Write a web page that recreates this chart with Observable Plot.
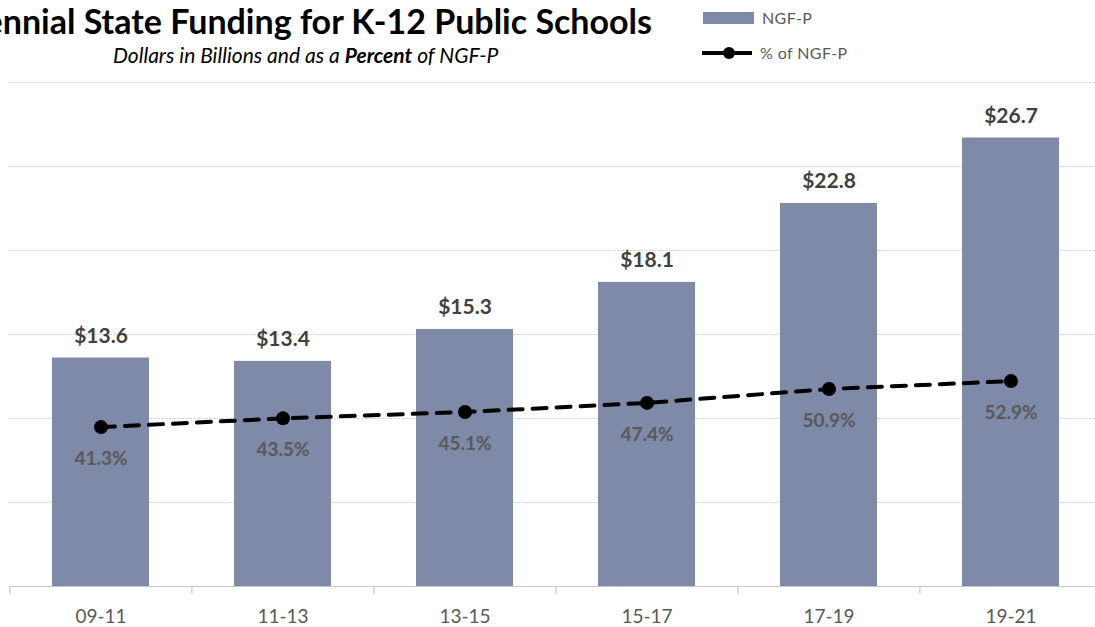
<!DOCTYPE html>
<html><head><meta charset="utf-8">
<script src="https://cdn.jsdelivr.net/npm/d3@7"></script>
<script src="https://cdn.jsdelivr.net/npm/@observablehq/plot@0.6"></script>
<style>
html,body{margin:0;padding:0;background:#fff;overflow:hidden;}
#wrap{position:relative;width:1095px;height:627px;overflow:hidden;font-family:Lato,"Open Sans",sans-serif;}
#header{position:relative;height:60px;}
#title{position:absolute;right:443px;top:1px;font-weight:700;font-size:34px;line-height:40px;color:#000;white-space:nowrap;}
#subtitle{position:absolute;left:113px;top:43px;font-style:italic;font-size:21px;line-height:24px;color:#000;white-space:nowrap;}
.leg{position:absolute;font-size:16px;letter-spacing:0.4px;color:#595959;white-space:nowrap;line-height:18px;}
#chart svg{display:block;max-width:none !important;overflow:visible;}
</style></head>
<body>
<div id="wrap">
  <div id="header">
    <div id="title">Biennial State Funding for K-12 Public Schools</div>
    <div id="subtitle">Dollars in Billions and as a <b>Percent</b> of NGF-P</div>
    <svg style="position:absolute;left:700px;top:8px" width="60" height="56">
      <rect x="3" y="4" width="51" height="12" fill="#7f89a8"></rect>
      <line x1="2" y1="45" x2="52" y2="45" stroke="#000" stroke-width="4"></line>
      <circle cx="29" cy="45" r="6" fill="#000"></circle>
    </svg>
    <div class="leg" style="left:762px;top:9px">NGF-P</div>
    <div class="leg" style="left:760px;top:44px">% of NGF-P</div>
  </div>
  <div id="chart"></div>
</div>
<script>
const periods = ["09-11","11-13","13-15","15-17","17-19","19-21"];
const ngfp = [13.6, 13.4, 15.3, 18.1, 22.8, 26.7];
const pctNgfp = [41.3, 43.5, 45.1, 47.4, 50.9, 52.9];
const yTicks = [0, 5, 10, 15, 20, 25, 30];
// secondary (percent) axis range, shown on the same vertical extent as the dollar axis
const pctAxis = [1.1, 128.2];

const data = periods.map((p, i) => ({period: p, ngfp: ngfp[i], pct: pctNgfp[i]}));
const yMax = yTicks[yTicks.length - 1];
const pctToY = v => (v - pctAxis[0]) / (pctAxis[1] - pctAxis[0]) * yMax;

const W = 1102, H = 567, mL = 9, mR = 0, mT = 22, mB = 41;
const step = (W - mL - mR) / periods.length;
const tickDepth = 8 / ((H - mT - mB) / yMax);

const chart = Plot.plot({
  width: W, height: H,
  marginLeft: mL, marginRight: mR, marginTop: mT, marginBottom: mB,
  x: {domain: periods, paddingInner: 0.468, paddingOuter: 0.234, label: null},
  y: {domain: [0, yMax], axis: null},
  style: {fontFamily: "Lato, 'Open Sans', sans-serif", background: "#fff", maxWidth: "none"},
  marks: [
    Plot.ruleY(yTicks.filter(v => v > 0), {stroke: "#d9d9d9", strokeWidth: 1.2, strokeDasharray: "3,1"}),
    Plot.barY(data, {x: "period", y: "ngfp", fill: "#7f89a8"}),
    Plot.ruleY([0], {stroke: "#c6c6c6", strokeWidth: 1.2}),
    Plot.ruleX(periods, {x: d => d, dx: -step / 2, y1: 0, y2: -tickDepth, stroke: "#c6c6c6", strokeWidth: 1.2}),
    Plot.line(data, {x: "period", y: d => pctToY(d.pct), stroke: "#000", strokeWidth: 4, strokeDasharray: "14,10"}),
    Plot.dot(data, {x: "period", y: d => pctToY(d.pct), r: 7, fill: "#000"}),
    Plot.text(data, {x: "period", y: "ngfp", text: d => "$" + d.ngfp.toFixed(1), dy: -22, fontSize: 21, fontWeight: 700, fill: "#404040"}),
    Plot.text(data, {x: "period", y: d => pctToY(d.pct), text: d => d.pct.toFixed(1) + "%", dy: 32, fontSize: 19, fontWeight: 700, fill: "#595959"}),
    Plot.axisX({tickSize: 0, tickPadding: 23, fontSize: 19, color: "#595959", label: null})
  ]
});
document.getElementById("chart").appendChild(chart);
</script>
</body></html>
